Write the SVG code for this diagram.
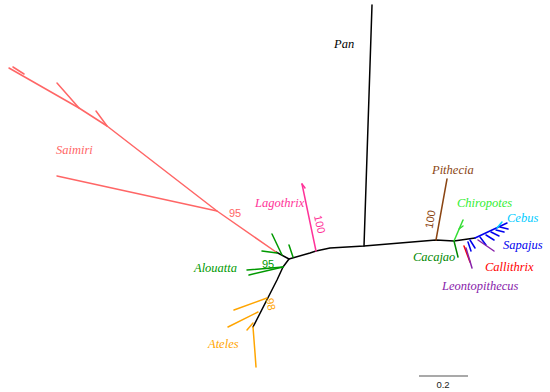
<svg xmlns="http://www.w3.org/2000/svg" width="550" height="392" viewBox="0 0 550 392">
<style>
.br{fill:none;stroke-width:1.5;stroke-linecap:round;stroke-linejoin:round}
.tx{font-family:"Liberation Serif",serif;font-style:italic;font-size:12.5px}
.nm{font-family:"Liberation Sans",Arial,sans-serif;font-size:11px}
</style>
<rect width="550" height="392" fill="#fff"/>
<g id="connectors">
<polyline class="br" stroke="#000" points="253,327 277,280 283,267 289,259 310,253 316,251 330,248 364,246 400,243 436,240 454,241 475,238"/>
<polyline class="br" stroke="#000" points="289,259 276,252"/>
<line class="br" stroke="#000" x1="364" y1="246" x2="372" y2="5"/>
</g>
<g id="saimiri">
<polyline class="br" stroke="#ff6666" points="276,252 217,211 107,126 79,108 9,68"/>
<line class="br" stroke="#ff6666" x1="13" y1="67" x2="24" y2="74"/>
<line class="br" stroke="#ff6666" x1="79" y1="108" x2="57" y2="83"/>
<line class="br" stroke="#ff6666" x1="107" y1="126" x2="96" y2="111"/>
<line class="br" stroke="#ff6666" x1="217" y1="211" x2="57" y2="176"/>
<text class="tx" fill="#ff6666" x="56" y="154">Saimiri</text>
<text class="nm" fill="#ff6666" x="229" y="217">95</text>
</g>
<g id="lagothrix">
<line class="br" stroke="#ff3399" x1="316" y1="251" x2="302" y2="184"/>
<line class="br" stroke="#ff3399" x1="302" y1="184" x2="305" y2="188"/>
<text class="tx" fill="#ff3399" x="255" y="207">Lagothrix</text>
<text class="nm" fill="#ff3399" transform="translate(316,225) rotate(78)" text-anchor="middle">100</text>
</g>
<g id="alouatta">
<line class="br" stroke="#009900" x1="272" y1="234" x2="282" y2="255"/>
<line class="br" stroke="#009900" x1="262" y1="251" x2="277" y2="253"/>
<line class="br" stroke="#009900" x1="289" y1="245" x2="293" y2="257"/>
<line class="br" stroke="#009900" x1="283" y1="267" x2="247" y2="270"/>
<line class="br" stroke="#009900" x1="283" y1="267" x2="249" y2="275"/>
<text class="tx" fill="#009900" x="194" y="272">Alouatta</text>
<text class="nm" fill="#009900" x="262" y="268">95</text>
</g>
<g id="ateles">
<line class="br" stroke="#ffa500" x1="267" y1="298" x2="234" y2="310"/>
<line class="br" stroke="#ffa500" x1="258" y1="312" x2="228" y2="327"/>
<line class="br" stroke="#ffa500" x1="253" y1="323" x2="247" y2="330"/>
<polyline class="br" stroke="#ffa500" points="253,327 255,353 256,367"/>
<text class="tx" fill="#ffa500" x="208" y="348">Ateles</text>
<text class="nm" fill="#ffa500" transform="translate(267,305) rotate(78)" text-anchor="middle">98</text>
</g>
<g id="pan">
<text class="tx" fill="#000" x="334" y="48">Pan</text>
</g>
<g id="pithecia">
<line class="br" stroke="#8b4513" x1="436" y1="240" x2="447" y2="179"/>
<text class="tx" fill="#8b4513" x="432" y="174">Pithecia</text>
<text class="nm" fill="#8b4513" transform="translate(434,220) rotate(-80)" text-anchor="middle">100</text>
</g>
<g id="chiropotes">
<line class="br" stroke="#33dd33" x1="454" y1="241" x2="463" y2="220"/>
<line class="br" stroke="#33dd33" x1="459" y1="229" x2="463" y2="226"/>
<text class="tx" fill="#33ee33" x="457" y="207">Chiropotes</text>
</g>
<g id="cacajao">
<line class="br" stroke="#008800" x1="454" y1="241" x2="458" y2="257"/>
<text class="tx" fill="#008800" x="413" y="261">Cacajao</text>
</g>
<g id="sapajus">
<line class="br" stroke="#0000ee" x1="475" y1="238" x2="507" y2="223"/>
<line class="br" stroke="#0000ee" x1="480" y1="237" x2="486" y2="245"/>
<line class="br" stroke="#0000ee" x1="486" y1="235" x2="494" y2="240"/>
<line class="br" stroke="#0000ee" x1="491" y1="232" x2="499" y2="236"/>
<line class="br" stroke="#0000ee" x1="496" y1="230" x2="504" y2="232"/>
<line class="br" stroke="#0000ee" x1="500" y1="227" x2="508" y2="229"/>
<line class="br" stroke="#0000ee" x1="470" y1="240" x2="475" y2="248"/>
<line class="br" stroke="#0000ee" x1="468" y1="242" x2="471" y2="251"/>
<text class="tx" fill="#0000ee" x="503" y="249">Sapajus</text>
</g>
<g id="cebus">
<line class="br" stroke="#00ccff" x1="497" y1="228" x2="502" y2="222"/>
<text class="tx" fill="#00ccff" x="507" y="222">Cebus</text>
</g>
<g id="callithrix">
<line class="br" stroke="#ff0000" x1="464" y1="246" x2="470" y2="262"/>
<text class="tx" fill="#ff0000" x="485" y="271">Callithrix</text>
</g>
<g id="leontopithecus">
<line class="br" stroke="#8822aa" x1="466" y1="248" x2="472" y2="268"/>
<line class="br" stroke="#8822aa" x1="478" y1="240" x2="494" y2="251"/>
<text class="tx" fill="#8822aa" x="442" y="290">Leontopithecus</text>
</g>
<g id="scale">
<line x1="419" y1="376" x2="468" y2="376" stroke="#555" stroke-width="1.2"/>
<text class="nm" fill="#222" x="443" y="388" text-anchor="middle" style="font-size:9.5px">0.2</text>
</g>
</svg>
